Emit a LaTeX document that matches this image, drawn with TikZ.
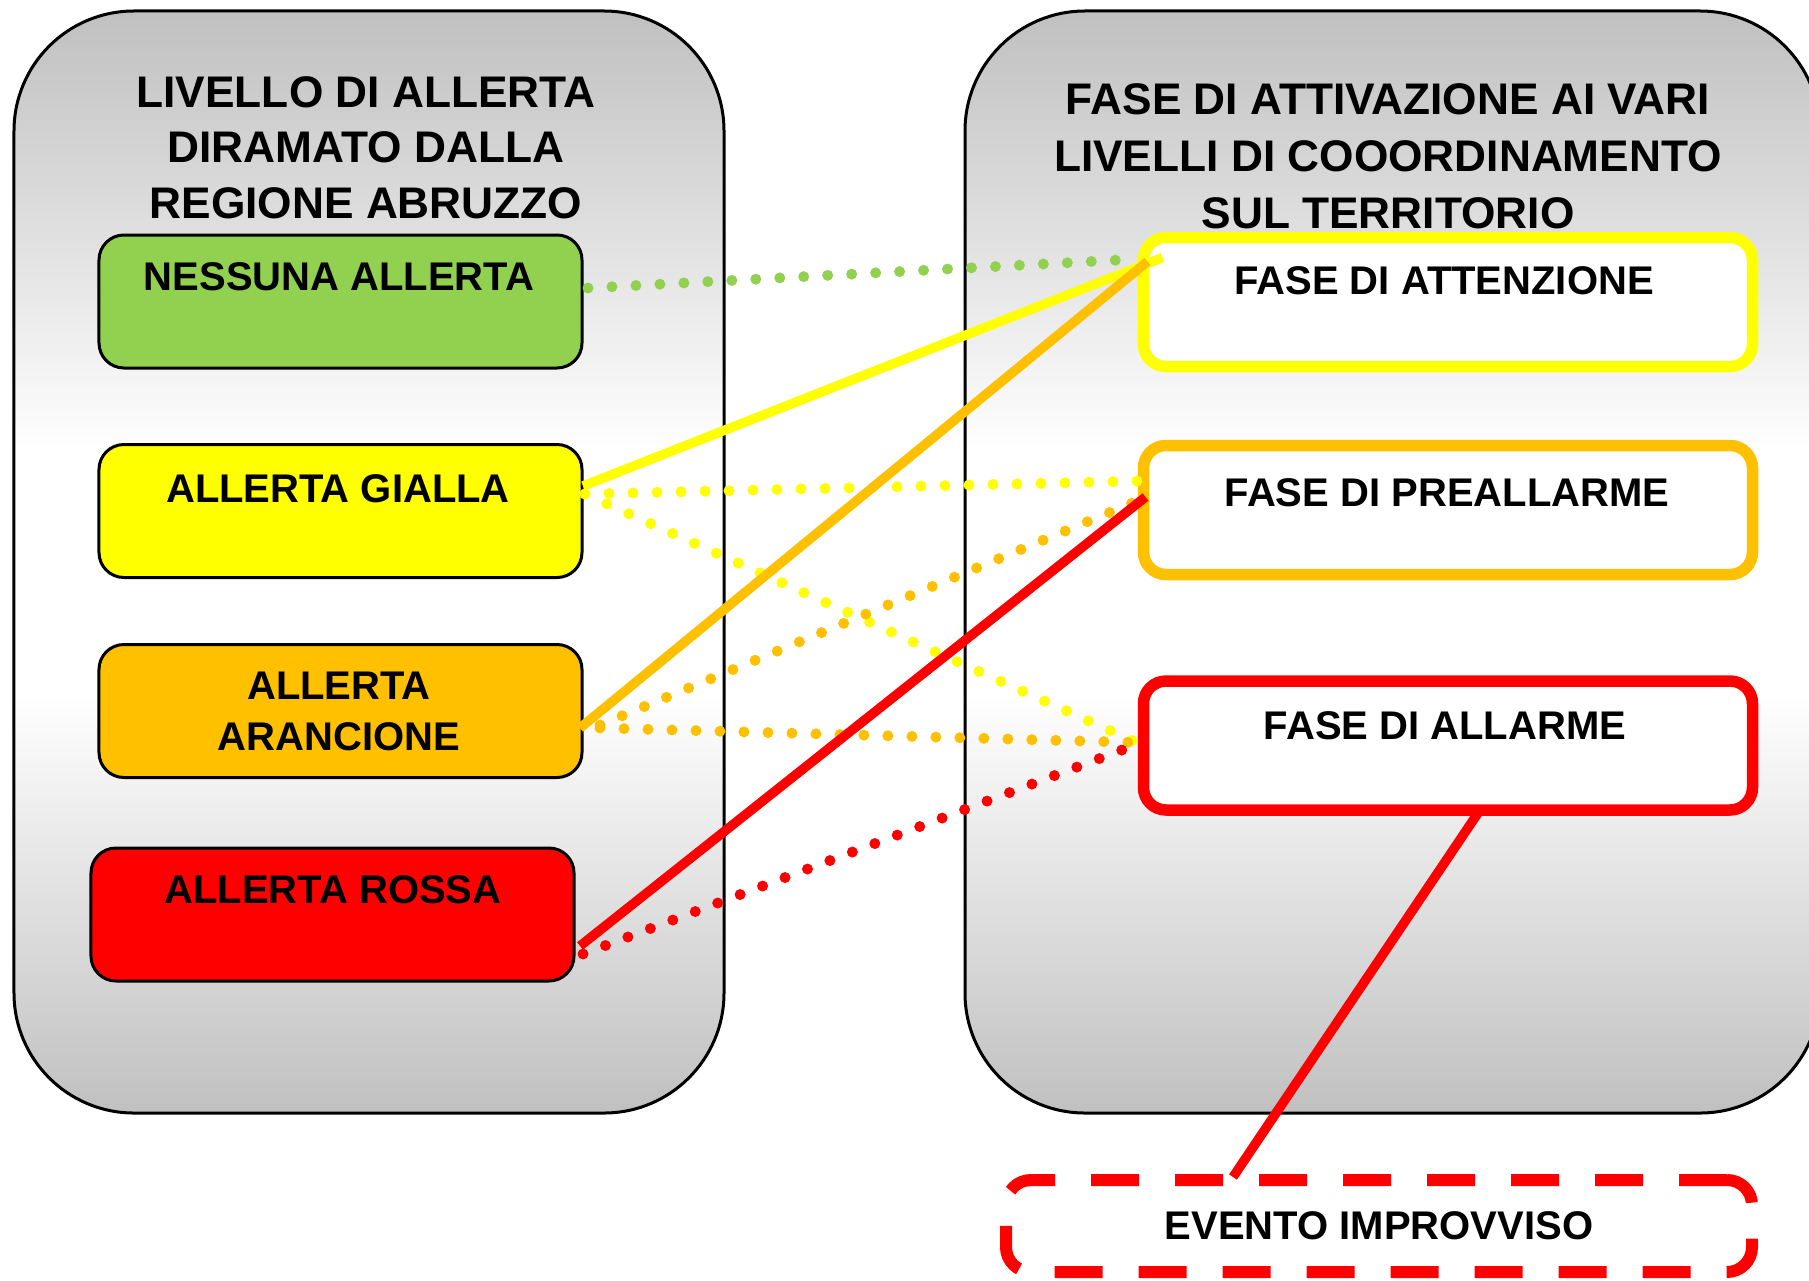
\documentclass[tikz,border=0pt]{standalone}
\usepackage{fontspec}
\setmainfont{Liberation Sans}
\usetikzlibrary{calc}
\definecolor{cgreen}{HTML}{92D050}
\definecolor{cyellow}{HTML}{FFFF00}
\definecolor{corange}{HTML}{FFC000}
\definecolor{cred}{HTML}{FF0000}
\definecolor{cgray}{RGB}{192,192,192}
\pgfdeclareverticalshading{panelshade}{100bp}{color(0bp)=(cgray); color(25bp)=(cgray); color(44bp)=(white); color(55bp)=(white); color(75bp)=(cgray); color(100bp)=(cgray)}
\begin{document}
\begin{tikzpicture}[x=0.4pt,y=-0.4pt,
  container/.style={draw=black, line width=1.2pt, rounded corners=48pt,
    shade, shading=panelshade, inner sep=0pt, outer sep=0pt},
  alertbox/.style={draw=black, line width=1.2pt, rounded corners=10pt,
    minimum width=193.2pt, minimum height=53.2pt, inner sep=0pt, outer sep=0pt},
  phasebox/.style={draw=#1, fill=white, line width=4.6pt, rounded corners=9pt,
    minimum width=243.6pt, minimum height=51.6pt, inner sep=0pt, outer sep=0pt},
  boxtext/.style={font=\fontsize{16}{20.4}\selectfont\bfseries, inner sep=0pt,
    anchor=base, align=center},
  titletext/.style={font=\fontsize{17.7}{22.2}\selectfont\bfseries, inner sep=0pt,
    align=center},
  solidlink/.style={draw=#1, line width=3.8pt},
  dotlink/.style={draw=#1, line width=4.4pt, line cap=round,
    dash pattern=on 0pt off 9.6pt},
]
\useasboundingbox (0,0) rectangle (1809,1281);
\clip (0,0) rectangle (1809,1281);

% panels
\node[container, minimum width=284pt, minimum height=440.8pt] (leftpanel) at (369,562) {};
\node[container, minimum width=342pt, minimum height=440.8pt] (rightpanel) at (1392.5,562) {};

% titles (anchor=base is the baseline of the last line)
\node[titletext, anchor=base] (lefttitle) at (366,218)
  {LIVELLO DI ALLERTA\\DIRAMATO DALLA\\REGIONE ABRUZZO};
\node[titletext, font=\fontsize{17.7}{22.8}\selectfont\bfseries, anchor=base] (righttitle) at (1388,228)
  {FASE DI ATTIVAZIONE AI VARI\\LIVELLI DI COOORDINAMENTO\\SUL TERRITORIO};

% alert boxes
\node[alertbox, fill=cgreen] (nessuna) at (340.5,301.5) {};
\node[boxtext] (nessunaT) at (339,290) {NESSUNA ALLERTA};
\node[alertbox, fill=cyellow] (gialla) at (340.5,511) {};
\node[boxtext] (giallaT) at (338,502) {ALLERTA GIALLA};
\node[alertbox, fill=corange] (arancione) at (340.5,711) {};
\node[boxtext] (arancioneT) at (339,750) {ALLERTA\\ARANCIONE};
\node[alertbox, fill=cred] (rossa) at (332.5,914.5) {};
\node[boxtext] (rossaT) at (333,903) {ALLERTA ROSSA};

% phase boxes
\node[phasebox=cyellow] (attenzione) at (1448,302) {};
\node[boxtext] (attenzioneT) at (1444,294) {FASE DI ATTENZIONE};
\node[phasebox=corange] (preallarme) at (1448,510) {};
\node[boxtext] (preallarmeT) at (1447,506) {FASE DI PREALLARME};
\node[phasebox=cred] (allarme) at (1448,745.5) {};
\node[boxtext] (allarmeT) at (1445,739) {FASE DI ALLARME};
\node[draw=cred, fill=white, line width=4.8pt, dash pattern=on 19.2pt off 14.4pt,
  rounded corners=10pt, minimum width=298.4pt, minimum height=36.8pt,
  inner sep=0pt, outer sep=0pt, font=\fontsize{16}{19}\selectfont\bfseries]
  (evento) at (1379,1226) {EVENTO IMPROVVISO};

% connectors
\draw[dotlink=cgreen] ($(nessuna.east)+(6,-13.5)$) -- ($(attenzione.north west)+(-5.5,21.5)$);
\draw[dotlink=cyellow] ($(gialla.east)+(3,-17)$) -- ($(preallarme.west)+(-2,-29)$);
\draw[dotlink=cyellow] ($(gialla.east)+(3,-17)$) -- ($(allarme.west)+(-7,-3)$);
\draw[dotlink=corange] ($(arancione.east)+(18,14)$) -- ($(preallarme.west)+(-4,-10)$);
\draw[dotlink=corange] ($(arancione.east)+(18,17)$) -- ($(allarme.west)+(-7,-3)$);
\draw[dotlink=cred] ($(rossa.east)+(9,39.5)$) -- ($(allarme.west)+(-7,-1)$);
\draw[solidlink=cyellow] ($(gialla.east)+(1,-25)$) -- ($(attenzione.north west)+(19,20)$);
\draw[solidlink=corange] ($(arancione.east)+(-2,17)$) -- ($(attenzione.north west)+(4,24)$);
\draw[solidlink=cred] ($(rossa.east)+(6,31.5)$) -- ($(preallarme.west)+(2,-13)$);
\draw[solidlink=cred] ($(allarme.south)+(32,0)$) -- ($(evento.north)+(-146,-3)$);
\end{tikzpicture}
\end{document}
